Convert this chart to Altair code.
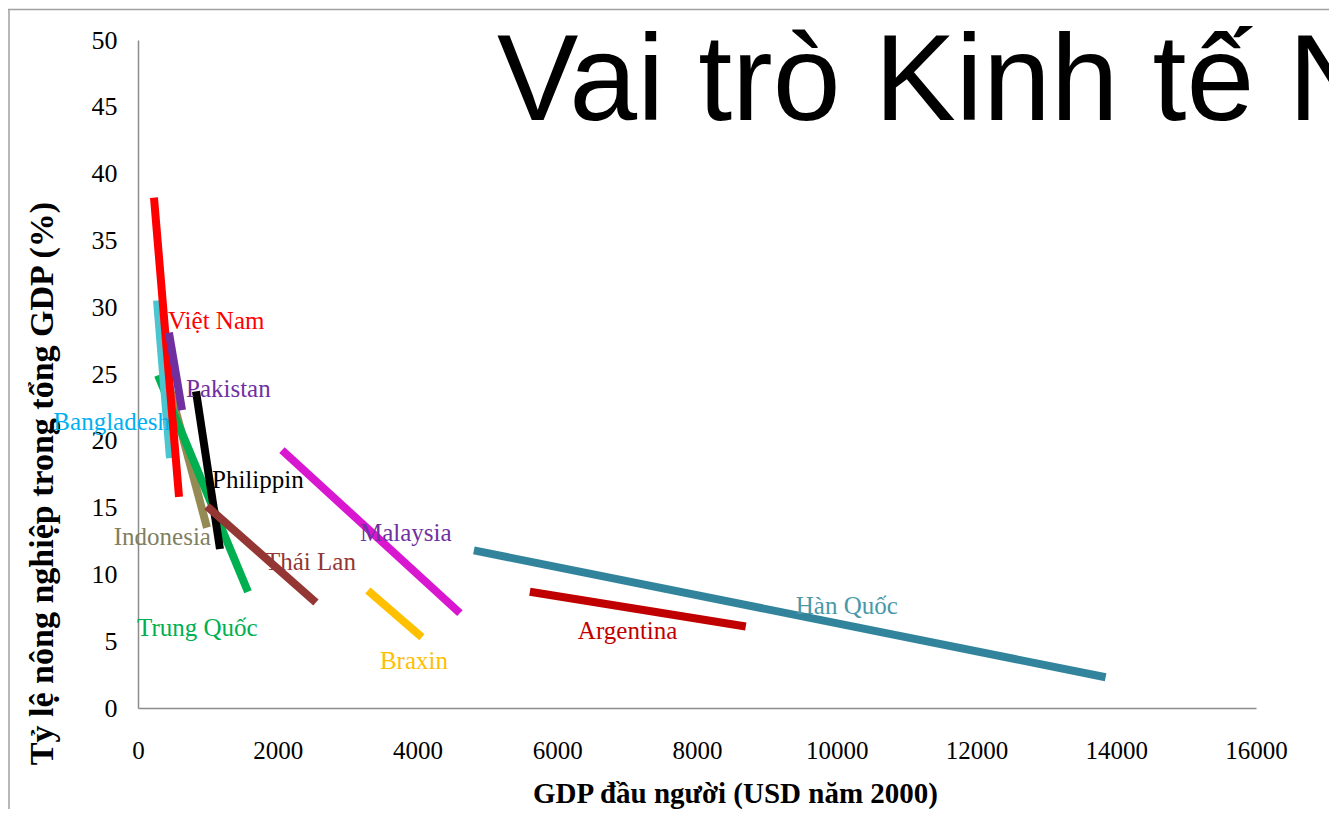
import altair as alt
import pandas as pd

# drawing order: first listed is drawn underneath
countries = ["Indonesia", "Trung Quốc", "Bangladesh", "Việt Nam", "Pakistan",
             "Philippin", "Thái Lan", "Malaysia", "Braxin", "Hàn Quốc", "Argentina"]
gdp_start = [420, 286, 272, 229, 443, 830, 987, 2060, 3290, 4807, 5608]
share_start = [24.6, 24.9, 30.5, 38.2, 28.1, 23.7, 15.1, 19.3, 8.8, 11.8, 8.7]
gdp_end = [987, 1574, 458, 587, 630, 1173, 2546, 4607, 4063, 13848, 8698]
share_end = [13.5, 8.7, 18.7, 15.8, 22.3, 11.9, 7.9, 7.1, 5.3, 2.3, 6.1]
line_colors = ["#948A54", "#00B050", "#4BC5D0", "#FF0000", "#7030A0",
               "#000000", "#943634", "#D916D0", "#FFC000", "#31849B", "#C00000"]

# label anchor positions (data units)
label_x = [1044, -14, 458, 430, 687, 1059, 1817, 3176, 3462, 9413, 6295]
label_y = [12.8, 6.0, 21.4, 29.0, 23.9, 17.1, 10.9, 13.1, 3.5, 7.6, 5.8]
label_align = ["right", "left", "right", "left", "left", "left", "left", "left", "left", "left", "left"]
label_colors = ["#7F7F62", "#00B050", "#00B0F0", "#FF0000", "#7030A0",
                "#000000", "#943634", "#7030A0", "#FFC000", "#4A98A8", "#C00000"]

x_ticks = list(range(0, 16001, 2000))
y_ticks = list(range(0, 51, 5))

title_text = "Vai trò Kinh tế Nông nghiệp"

rows = []
for i, c in enumerate(countries):
    rows.append({"country": c, "idx": i, "order": 0, "gdp": gdp_start[i], "share": share_start[i]})
    rows.append({"country": c, "idx": i, "order": 1, "gdp": gdp_end[i], "share": share_end[i]})
lines_df = pd.DataFrame(rows)

labels_df = pd.DataFrame({"country": countries, "gdp": label_x, "share": label_y,
                          "align": label_align, "lcolor": label_colors})

W, H = 1118, 668

xscale = alt.Scale(domain=[0, 16000], nice=False, zero=False)
yscale = alt.Scale(domain=[0, 50], nice=False)

x_enc = alt.X("gdp:Q", scale=xscale, axis=alt.Axis(
    values=x_ticks, format="d", title="GDP đầu người (USD năm 2000)", grid=False, ticks=False,
    labelPadding=30, labelFont="Liberation Serif", labelFontSize=25, labelColor="#000",
    labelFlush=False, labelOverlap=False,
    domainColor="#8C8C8C", domainWidth=1.5,
    titleFont="Liberation Serif", titleFontSize=29, titleFontWeight="bold", titleColor="#000",
    titleX=597, titleY=85, titleBaseline="middle", titleAlign="center"))
y_enc = alt.Y("share:Q", scale=yscale, axis=alt.Axis(
    values=y_ticks, format="d", title="Tỷ lệ nông nghiệp trong tổng GDP (%)", grid=False, ticks=False,
    labelPadding=21, labelFont="Liberation Serif", labelFontSize=26, labelColor="#000",
    labelFlush=False, labelOverlap=False,
    domainColor="#8C8C8C", domainWidth=1.5,
    titleFont="Liberation Serif", titleFontSize=34, titleFontWeight="bold", titleColor="#000",
    titleX=-96, titleY=443, titleBaseline="middle", titleAlign="center", titleAngle=270))

lines = alt.Chart(lines_df).mark_line(strokeWidth=8, strokeCap="butt").encode(
    x=x_enc, y=y_enc,
    color=alt.Color("country:N", scale=alt.Scale(domain=countries, range=line_colors), legend=None),
    order="order:Q",
    detail="idx:O",
)

def label_layer(align):
    return alt.Chart(labels_df).transform_filter(
        alt.datum.align == align
    ).mark_text(align=align, baseline="middle", font="Liberation Serif", fontSize=25).encode(
        x=alt.X("gdp:Q", scale=xscale),
        y=alt.Y("share:Q", scale=yscale),
        text="country:N",
        color=alt.Color("lcolor:N", scale=None),
    )

title_df = pd.DataFrame({"t": [title_text]})
title = alt.Chart(title_df).mark_text(
    align="left", baseline="alphabetic", font="Liberation Sans",
    fontSize=122, color="#000"
).encode(x=alt.value(359), y=alt.value(80), text="t:N")

frame_df = pd.DataFrame({"k": [0]})
top_border = alt.Chart(frame_df).mark_rule(color="#A0A0A0", strokeWidth=1.5).encode(
    x=alt.value(-130), x2=alt.value(1195), y=alt.value(-30.5))
left_border = alt.Chart(frame_df).mark_rule(color="#A0A0A0", strokeWidth=1.5).encode(
    x=alt.value(-129), y=alt.value(-30.5), y2=alt.value(775))

chart = alt.layer(
    top_border, left_border, lines, label_layer("left"), label_layer("right"), title
).properties(
    width=W, height=H,
    autosize=alt.AutoSizeParams(type="none"),
    padding={"left": 130, "top": 32, "right": 73, "bottom": 101},
    background="white",
).configure_view(stroke=None)

chart.save("out.html", embed_options={"renderer": "svg", "actions": False})
